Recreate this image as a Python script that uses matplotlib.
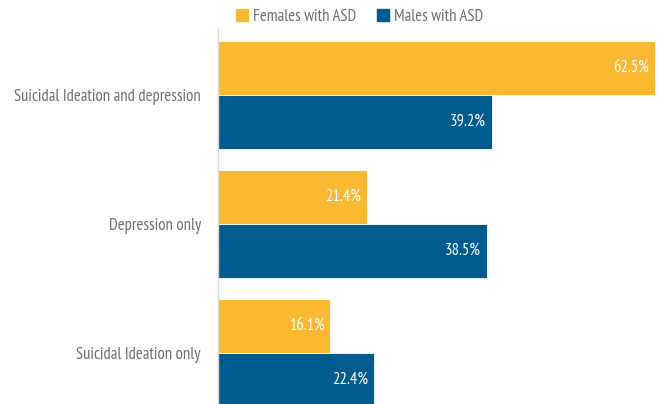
import numpy as np
import matplotlib.pyplot as plt
from matplotlib.patches import Patch

# outcome categories, top to bottom
categories = ["Suicidal Ideation and depression", "Depression only", "Suicidal Ideation only"]
females = [62.5, 21.4, 16.1]
males = [39.2, 38.5, 22.4]

yellow = "#FBB832"
blue = "#005B8F"
grey = "#6D6E71"

plt.rcParams['font.family'] = ['PT Sans Narrow', 'Fira Sans Condensed', 'Asap Condensed', 'DejaVu Sans']

fig = plt.figure(figsize=(6.58, 4.04), dpi=100)
ax = fig.add_axes([217.5 / 658, 0, 1 - 217.5 / 658, 1 - 29 / 404])

y = np.arange(len(categories))
h = 54 / 129

bf = ax.barh(y - h / 2, females, height=h, color=yellow, edgecolor="white", linewidth=0.6)
bm = ax.barh(y + h / 2, males, height=h, color=blue, edgecolor="white", linewidth=0.6)

for bars, vals in [(bf, females), (bm, males)]:
    for b, v in zip(bars, vals):
        ax.text(v - 0.85, b.get_y() + b.get_height() / 2, f"{v:.1f}%",
                ha="right", va="center", color="white", fontsize=12)

ax.set_xlim(0, 62.93)
ax.set_ylim(2 + 51 / 129, -66 / 129)
ax.set_yticks(y)
ax.set_yticklabels(categories, fontsize=12, color=grey)
ax.tick_params(axis="y", length=0, pad=12)
ax.set_xticks([])
for s in ["top", "right", "bottom"]:
    ax.spines[s].set_visible(False)
ax.spines["left"].set_color("#D9D9D9")
ax.spines["left"].set_linewidth(1)

handles = [Patch(color=yellow, label="Females with ASD"),
           Patch(color=blue, label="Males with ASD")]
leg = fig.legend(handles=handles, loc="center", bbox_to_anchor=(0.5465, 1 - 17 / 404),
                 ncol=2, frameon=False, fontsize=12, handlelength=0.7, handleheight=0.7,
                 handletextpad=0.3, columnspacing=1.3)
for t in leg.get_texts():
    t.set_color(grey)

fig.savefig("out.png", dpi=100)
